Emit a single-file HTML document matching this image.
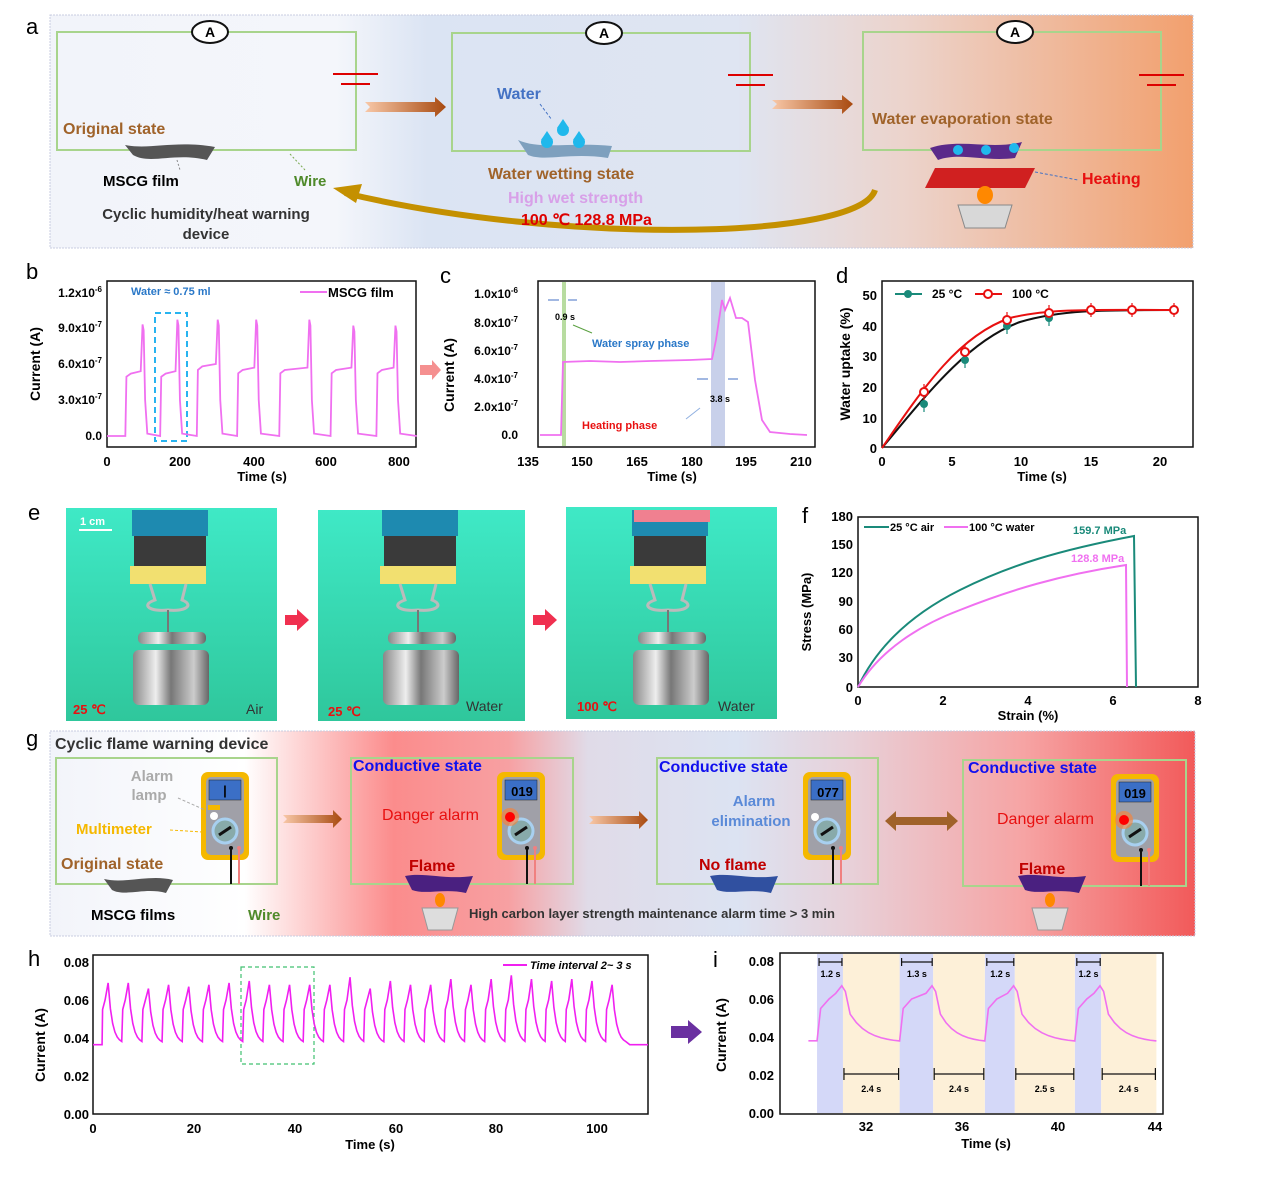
<!DOCTYPE html>
<html><head><meta charset="utf-8"><style>
html,body{margin:0;padding:0;background:#fff;}
svg{display:block;font-family:"Liberation Sans",Arial,sans-serif;}
.b{font-weight:bold}
</style></head><body>
<svg id="s" width="1269" height="1181" viewBox="0 0 1269 1181" xmlns="http://www.w3.org/2000/svg">
<defs>
<linearGradient id="ga" x1="0" x2="1" y1="0" y2="0">
<stop offset="0" stop-color="#f2f4fa"/><stop offset="0.25" stop-color="#f4f6fb"/><stop offset="0.33" stop-color="#dbe4f3"/><stop offset="0.6" stop-color="#dfe5f2"/><stop offset="0.75" stop-color="#ecd3cb"/><stop offset="1" stop-color="#f2a06e"/>
</linearGradient>
<linearGradient id="gg" x1="0" x2="1" y1="0" y2="0">
<stop offset="0" stop-color="#f2f4fa"/><stop offset="0.17" stop-color="#fff"/><stop offset="0.3" stop-color="#fb8c8c"/><stop offset="0.4" stop-color="#f7a0a2"/><stop offset="0.47" stop-color="#e0dbe8"/><stop offset="0.6" stop-color="#dce3f2"/><stop offset="0.7" stop-color="#e8d0d8"/><stop offset="0.85" stop-color="#f6a4a4"/><stop offset="1" stop-color="#f25a5a"/>
</linearGradient>
<linearGradient id="ge" x1="0" x2="0" y1="0" y2="1">
<stop offset="0" stop-color="#3fe9c6"/><stop offset="1" stop-color="#2fc79c"/>
</linearGradient>
<linearGradient id="ar" x1="0" x2="1"><stop offset="0" stop-color="#f8c8a8"/><stop offset="1" stop-color="#a84a10"/></linearGradient>
<linearGradient id="wt" x1="0" x2="1"><stop offset="0" stop-color="#888"/><stop offset="0.3" stop-color="#eee"/><stop offset="0.5" stop-color="#777"/><stop offset="0.8" stop-color="#ccc"/><stop offset="1" stop-color="#666"/></linearGradient>
<g id="mm">
<rect x="0" y="0" width="48" height="88" rx="7" fill="#f5b800"/>
<rect x="5" y="5" width="38" height="78" rx="5" fill="#a0a0a8"/>
<rect x="8" y="8" width="32" height="20" fill="#3b6fc6" stroke="#222" stroke-width="0.5"/>
<circle cx="24" cy="59" r="12" fill="#8aa" stroke="#a8d0f0" stroke-width="3"/>
<line x1="18" y1="63" x2="30" y2="55" stroke="#111" stroke-width="3"/>
<circle cx="30" cy="76" r="2" fill="#111"/><circle cx="38" cy="76" r="2" fill="#f08080"/>
</g>
</defs>

<!-- ========== a ========== -->
<text x="26" y="34" font-size="22">a</text>
<rect x="50" y="15" width="1143" height="233" fill="url(#ga)" stroke="#c8cce0" stroke-dasharray="2,1"/>
<g fill="none" stroke="#a8d48c" stroke-width="2">
<rect x="57" y="32" width="299" height="118"/>
<rect x="452" y="33" width="298" height="118"/>
<rect x="863" y="32" width="298" height="118"/>
</g>
<g stroke="#d00" stroke-width="2">
<line x1="333" y1="74" x2="378" y2="74"/><line x1="341" y1="84" x2="370" y2="84"/>
<line x1="728" y1="75" x2="773" y2="75"/><line x1="736" y1="85" x2="765" y2="85"/>
<line x1="1139" y1="75" x2="1184" y2="75"/><line x1="1147" y1="85" x2="1176" y2="85"/>
</g>
<g fill="#fff" stroke="#111" stroke-width="2">
<ellipse cx="210" cy="32" rx="18" ry="11"/><ellipse cx="604" cy="33" rx="18" ry="11"/><ellipse cx="1015" cy="32" rx="18" ry="11"/>
</g>
<g font-size="14" font-weight="bold" text-anchor="middle">
<text x="210" y="37">A</text><text x="604" y="38">A</text><text x="1015" y="37">A</text>
</g>
<polygon points="365,102 435,102 435,97 446,107 435,117 435,112 365,112 370,107" fill="url(#ar)"/>
<polygon points="772,100 842,100 842,95 853,104 842,114 842,109 772,109 777,104" fill="url(#ar)"/>
<path d="M875,190 C860,240 560,245 345,193" fill="none" stroke="#c49000" stroke-width="6"/>
<polygon points="333,188 362,184 356,203" fill="#c49000"/>
<text x="63" y="134" font-size="16" class="b" fill="#a0632a">Original state</text>
<path d="M125,145 C150,150 175,140 215,147 L207,160 C175,152 150,165 133,155Z" fill="#555"/>
<line x1="177" y1="160" x2="180" y2="170" stroke="#888" stroke-dasharray="2,2"/>
<line x1="290" y1="154" x2="305" y2="170" stroke="#7aaa50" stroke-dasharray="2,2"/>
<text x="103" y="186" font-size="15" class="b">MSCG film</text>
<text x="294" y="186" font-size="15" class="b" fill="#4f8a2a">Wire</text>
<text x="206" y="219" font-size="15" class="b" fill="#333" text-anchor="middle">Cyclic humidity/heat warning</text>
<text x="206" y="239" font-size="15" class="b" fill="#333" text-anchor="middle">device</text>
<text x="497" y="99" font-size="16" class="b" fill="#4472c4">Water</text>
<line x1="540" y1="104" x2="552" y2="120" stroke="#4472c4" stroke-dasharray="3,2"/>
<path d="M518,140 C540,150 570,142 612,146 L608,158 C570,152 545,162 528,155Z" fill="#7ea0be"/>
<g fill="#20b8ec"><circle cx="563" cy="130" r="6"/><circle cx="547" cy="142" r="6"/><circle cx="579" cy="142" r="6"/>
<polygon points="563,119 557,128 569,128"/><polygon points="547,131 541,140 553,140"/><polygon points="579,131 573,140 585,140"/></g>
<text x="488" y="179" font-size="16" class="b" fill="#a0632a">Water wetting  state</text>
<text x="508" y="203" font-size="16" class="b" fill="#d8a0e8">High wet strength</text>
<text x="521" y="225" font-size="16" class="b" fill="#d00">100 ℃    128.8 MPa</text>
<text x="872" y="124" font-size="16" class="b" fill="#a0632a">Water evaporation state</text>
<path d="M930,148 C960,138 990,150 1022,142 L1015,158 C985,162 960,152 938,160Z" fill="#5a2a8a"/>
<g fill="#20b8ec"><circle cx="958" cy="150" r="5"/><circle cx="986" cy="150" r="5"/><circle cx="1014" cy="148" r="5"/></g>
<polygon points="935,168 1035,168 1025,188 925,188" fill="#d02020"/>
<ellipse cx="985" cy="195" rx="8" ry="9" fill="#f80"/>
<path d="M958,205 L1012,205 L1005,228 L965,228Z" fill="#d8d8d8" stroke="#888"/>
<line x1="1035" y1="172" x2="1078" y2="180" stroke="#4472c4" stroke-dasharray="3,2"/>
<text x="1082" y="184" font-size="16" class="b" fill="#e81010">Heating</text>

<!-- ========== b ========== -->
<text x="26" y="279" font-size="22">b</text>
<rect x="107" y="281" width="309" height="166" fill="none" stroke="#111" stroke-width="1.5"/>
<g font-size="12" class="b" text-anchor="end">
<text x="102" y="440">0.0</text><text x="102" y="404">3.0x10<tspan dy="-5" font-size="8">-7</tspan></text>
<text x="102" y="368">6.0x10<tspan dy="-5" font-size="8">-7</tspan></text><text x="102" y="332">9.0x10<tspan dy="-5" font-size="8">-7</tspan></text>
<text x="102" y="297">1.2x10<tspan dy="-5" font-size="8">-6</tspan></text></g>
<g font-size="13" class="b" text-anchor="middle"><text x="107" y="466">0</text><text x="180" y="466">200</text><text x="254" y="466">400</text><text x="326" y="466">600</text><text x="399" y="466">800</text>
<text x="262" y="481">Time (s)</text></g>
<text transform="translate(40,364) rotate(-90)" font-size="14" class="b" text-anchor="middle">Current (A)</text>
<text x="131" y="295" font-size="11" class="b" fill="#2a78c8">Water ≈ 0.75 ml</text>
<line x1="300" y1="292" x2="327" y2="292" stroke="#f070f0" stroke-width="2"/>
<text x="328" y="297" font-size="13" class="b">MSCG film</text>
<rect x="155" y="313" width="32" height="128" fill="none" stroke="#28b4f0" stroke-width="2" stroke-dasharray="6,4"/>
<path id="pb" fill="none" stroke="#f070f0" stroke-width="1.8"/>
<polygon points="420,365 432,365 432,360 441,370 432,380 432,375 420,375" fill="#f59090"/>

<!-- ========== c ========== -->
<text x="440" y="283" font-size="22">c</text>
<rect x="562" y="282" width="4" height="164" fill="#b8dca0"/>
<rect x="711" y="282" width="14" height="164" fill="#c8d0ea"/>
<rect x="538" y="281" width="277" height="166" fill="none" stroke="#111" stroke-width="1.5"/>
<g font-size="12" class="b" text-anchor="end">
<text x="518" y="439">0.0</text><text x="518" y="411">2.0x10<tspan dy="-5" font-size="8">-7</tspan></text>
<text x="518" y="383">4.0x10<tspan dy="-5" font-size="8">-7</tspan></text><text x="518" y="355">6.0x10<tspan dy="-5" font-size="8">-7</tspan></text>
<text x="518" y="327">8.0x10<tspan dy="-5" font-size="8">-7</tspan></text><text x="518" y="298">1.0x10<tspan dy="-5" font-size="8">-6</tspan></text></g>
<g font-size="13" class="b" text-anchor="middle"><text x="528" y="466">135</text><text x="582" y="466">150</text><text x="637" y="466">165</text><text x="692" y="466">180</text><text x="746" y="466">195</text><text x="801" y="466">210</text>
<text x="672" y="481">Time (s)</text></g>
<text transform="translate(454,375) rotate(-90)" font-size="14" class="b" text-anchor="middle">Current (A)</text>
<path d="M540,435 L561,435 L563,362 L590,361 L620,362 L650,361 L690,360 L712,359 L716,340 L722,300 L725,310 L730,298 L736,318 L742,318 L748,322 L755,380 L762,420 L770,432 L790,434 L807,435" fill="none" stroke="#f070f0" stroke-width="1.8"/>
<g stroke="#4472c4" stroke-width="1"><line x1="548" y1="300" x2="559" y2="300"/><line x1="568" y1="300" x2="577" y2="300"/>
<line x1="697" y1="379" x2="708" y2="379"/><line x1="728" y1="379" x2="738" y2="379"/></g>
<text x="555" y="320" font-size="9" class="b">0.9 s</text>
<line x1="573" y1="325" x2="592" y2="333" stroke="#5aa040"/>
<text x="592" y="347" font-size="11" class="b" fill="#2a78c8">Water spray phase</text>
<text x="710" y="402" font-size="9" class="b">3.8 s</text>
<line x1="700" y1="408" x2="686" y2="419" stroke="#90b0e0"/>
<text x="582" y="429" font-size="11" class="b" fill="#e81010">Heating phase</text>

<!-- ========== d ========== -->
<text x="836" y="283" font-size="22">d</text>
<rect x="882" y="281" width="311" height="166" fill="none" stroke="#111" stroke-width="1.5"/>
<g font-size="13" class="b" text-anchor="end">
<text x="877" y="453">0</text><text x="877" y="423">10</text><text x="877" y="392">20</text><text x="877" y="361">30</text><text x="877" y="331">40</text><text x="877" y="300">50</text></g>
<g font-size="13" class="b" text-anchor="middle"><text x="882" y="466">0</text><text x="952" y="466">5</text><text x="1021" y="466">10</text><text x="1091" y="466">15</text><text x="1160" y="466">20</text>
<text x="1042" y="481">Time (s)</text></g>
<text transform="translate(850,364) rotate(-90)" font-size="14" class="b" text-anchor="middle">Water uptake (%)</text>
<path d="M882,448 C930,390 970,340 1020,322 C1060,310 1100,310 1175,310" fill="none" stroke="#111" stroke-width="2"/>
<path d="M882,448 C925,385 960,335 1010,318 C1050,308 1100,310 1175,310" fill="none" stroke="#e81010" stroke-width="2"/>
<g stroke="#1a8a7a" stroke-width="1.2"><line x1="924" y1="396" x2="924" y2="412"/><line x1="965" y1="352" x2="965" y2="368"/><line x1="1007" y1="318" x2="1007" y2="334"/><line x1="1049" y1="310" x2="1049" y2="326"/></g>
<g stroke="#e81010" stroke-width="1.2"><line x1="924" y1="384" x2="924" y2="400"/><line x1="965" y1="344" x2="965" y2="360"/><line x1="1007" y1="312" x2="1007" y2="328"/><line x1="1049" y1="305" x2="1049" y2="321"/><line x1="1091" y1="303" x2="1091" y2="317"/><line x1="1132" y1="303" x2="1132" y2="317"/><line x1="1174" y1="303" x2="1174" y2="317"/></g>
<g fill="#1a8a7a"><circle cx="924" cy="404" r="4"/><circle cx="965" cy="360" r="4"/><circle cx="1007" cy="326" r="4"/><circle cx="1049" cy="318" r="4"/><circle cx="1091" cy="311" r="4"/></g>
<g fill="#fff" stroke="#e81010" stroke-width="2"><circle cx="924" cy="392" r="4"/><circle cx="965" cy="352" r="4"/><circle cx="1007" cy="320" r="4"/><circle cx="1049" cy="313" r="4"/><circle cx="1091" cy="310" r="4"/><circle cx="1132" cy="310" r="4"/><circle cx="1174" cy="310" r="4"/></g>
<line x1="895" y1="294" x2="922" y2="294" stroke="#1a8a7a" stroke-width="2"/><circle cx="908" cy="294" r="4" fill="#1a8a7a"/>
<text x="932" y="298" font-size="12" class="b">25 °C</text>
<line x1="975" y1="294" x2="1002" y2="294" stroke="#e81010" stroke-width="2"/><circle cx="988" cy="294" r="4" fill="#fff" stroke="#e81010" stroke-width="2"/>
<text x="1012" y="298" font-size="12" class="b">100 °C</text>

<!-- ========== e ========== -->
<text x="28" y="520" font-size="22">e</text>
<rect x="66" y="508" width="211" height="213" fill="url(#ge)"/>
<rect x="318" y="510" width="207" height="211" fill="url(#ge)"/>
<rect x="566" y="507" width="211" height="212" fill="url(#ge)"/>
<g id="rig1">
<rect x="132" y="510" width="76" height="26" fill="#1e8ab0"/>
<rect x="134" y="536" width="72" height="30" fill="#3a3a3a"/>
<rect x="130" y="566" width="76" height="18" fill="#f2e070"/>
<path d="M150,584 L155,600 C140,605 150,612 168,610 C185,612 195,605 182,600 L186,584" fill="none" stroke="#bbb" stroke-width="3"/>
<line x1="168" y1="610" x2="168" y2="632" stroke="#777" stroke-width="2"/>
<rect x="138" y="632" width="68" height="12" rx="5" fill="url(#wt)"/>
<rect x="133" y="650" width="76" height="55" rx="6" fill="url(#wt)"/>
</g>
<use href="#rig1" x="250"/>
<use href="#rig1" x="500"/>
<rect x="634" y="510" width="76" height="12" fill="#f08090"/>
<text x="80" y="525" font-size="11" class="b" fill="#fff">1 cm</text>
<line x1="79" y1="530" x2="112" y2="530" stroke="#fff" stroke-width="2"/>
<text x="73" y="714" font-size="13" class="b" fill="#e81010">25 ℃</text><text x="246" y="714" font-size="14" fill="#333">Air</text>
<text x="328" y="716" font-size="13" class="b" fill="#e81010">25 ℃</text><text x="466" y="711" font-size="14" fill="#333">Water</text>
<text x="577" y="711" font-size="13" class="b" fill="#e81010">100 ℃</text><text x="718" y="711" font-size="14" fill="#333">Water</text>
<polygon points="285,615 297,615 297,609 309,620 297,631 297,625 285,625" fill="#f03050"/>
<polygon points="533,615 545,615 545,609 557,620 545,631 545,625 533,625" fill="#f03050"/>

<!-- ========== f ========== -->
<text x="802" y="523" font-size="22">f</text>
<rect x="858" y="517" width="340" height="170" fill="none" stroke="#111" stroke-width="1.5"/>
<g font-size="13" class="b" text-anchor="end">
<text x="853" y="692">0</text><text x="853" y="662">30</text><text x="853" y="634">60</text><text x="853" y="606">90</text><text x="853" y="577">120</text><text x="853" y="549">150</text><text x="853" y="521">180</text></g>
<g font-size="13" class="b" text-anchor="middle"><text x="858" y="705">0</text><text x="943" y="705">2</text><text x="1028" y="705">4</text><text x="1113" y="705">6</text><text x="1198" y="705">8</text>
<text x="1028" y="720">Strain (%)</text></g>
<text transform="translate(811,612) rotate(-90)" font-size="13" class="b" text-anchor="middle">Stress (MPa)</text>
<path d="M858,687 C880,640 920,610 960,590 C1010,565 1060,550 1134,536 L1136,687" fill="none" stroke="#1a8a7a" stroke-width="2"/>
<path d="M858,687 C880,650 920,625 960,610 C1010,590 1060,575 1126,565 L1127,687" fill="none" stroke="#f070f0" stroke-width="2"/>
<line x1="864" y1="527" x2="889" y2="527" stroke="#1a8a7a" stroke-width="2"/><text x="890" y="531" font-size="11" class="b">25 °C air</text>
<line x1="944" y1="527" x2="968" y2="527" stroke="#f070f0" stroke-width="2"/><text x="969" y="531" font-size="11" class="b">100 °C water</text>
<text x="1073" y="534" font-size="11" class="b" fill="#1a8a7a">159.7 MPa</text>
<text x="1071" y="562" font-size="11" class="b" fill="#f070f0">128.8 MPa</text>

<!-- ========== g ========== -->
<text x="26" y="746" font-size="22">g</text>
<rect x="50" y="731" width="1145" height="205" fill="url(#gg)" stroke="#c8cce0" stroke-dasharray="2,1"/>
<text x="55" y="749" font-size="16" class="b" fill="#333">Cyclic flame warning device</text>
<g fill="none" stroke="#a8d48c" stroke-width="2">
<rect x="56" y="758" width="221" height="126"/><rect x="351" y="758" width="222" height="126"/>
<rect x="657" y="758" width="221" height="126"/><rect x="963" y="760" width="223" height="126"/>
</g>
<use href="#mm" x="201" y="772"/><use href="#mm" x="497" y="772"/><use href="#mm" x="803" y="772"/><use href="#mm" x="1111" y="774"/>
<g font-size="13" class="b" text-anchor="middle"><text x="225" y="795">|</text><text x="522" y="796">019</text><text x="828" y="797">077</text><text x="1135" y="798">019</text></g>
<g stroke="#111" stroke-width="2"><line x1="231" y1="848" x2="231" y2="884"/><line x1="527" y1="848" x2="527" y2="884"/><line x1="833" y1="848" x2="833" y2="884"/><line x1="1141" y1="850" x2="1141" y2="886"/></g>
<g stroke="#f08080" stroke-width="2"><line x1="239" y1="848" x2="239" y2="884"/><line x1="535" y1="848" x2="535" y2="884"/><line x1="841" y1="848" x2="841" y2="884"/><line x1="1149" y1="850" x2="1149" y2="886"/></g>
<rect x="208" y="805" width="12" height="5" fill="#f5b800"/><circle cx="214" cy="816" r="4" fill="#fff"/>
<circle cx="510" cy="817" r="9" fill="#ff8030" opacity="0.6"/><circle cx="510" cy="817" r="5" fill="#f00"/>
<circle cx="1124" cy="820" r="9" fill="#ff8030" opacity="0.6"/><circle cx="1124" cy="820" r="5" fill="#f00"/>
<circle cx="815" cy="817" r="4" fill="#fff"/>
<text x="152" y="781" font-size="15" class="b" fill="#aaa" text-anchor="middle">Alarm</text>
<text x="149" y="800" font-size="15" class="b" fill="#aaa" text-anchor="middle">lamp</text>
<line x1="178" y1="798" x2="205" y2="810" stroke="#aaa" stroke-dasharray="3,2"/>
<text x="76" y="834" font-size="15" class="b" fill="#f5b800">Multimeter</text>
<line x1="170" y1="830" x2="202" y2="832" stroke="#f5b800" stroke-dasharray="3,2"/>
<text x="61" y="869" font-size="16" class="b" fill="#a0632a">Original state</text>
<path d="M104,879 C125,884 150,874 173,880 L166,893 C145,887 125,897 112,890Z" fill="#555"/>
<text x="91" y="920" font-size="15" class="b">MSCG films</text>
<text x="248" y="920" font-size="15" class="b" fill="#4f8a2a">Wire</text>
<text x="353" y="771" font-size="16" class="b" fill="#1010ee">Conductive state</text>
<text x="659" y="772" font-size="16" class="b" fill="#1010ee">Conductive state</text>
<text x="968" y="773" font-size="16" class="b" fill="#1010ee">Conductive state</text>
<text x="382" y="820" font-size="16" fill="#e81010">Danger alarm</text>
<text x="997" y="824" font-size="16" fill="#e81010">Danger alarm</text>
<text x="754" y="806" font-size="15" class="b" fill="#5a8ad8" text-anchor="middle">Alarm</text>
<text x="751" y="826" font-size="15" class="b" fill="#5a8ad8" text-anchor="middle">elimination</text>
<text x="409" y="871" font-size="16" class="b" fill="#c00000">Flame</text>
<text x="699" y="870" font-size="16" class="b" fill="#c00000">No flame</text>
<text x="1019" y="874" font-size="16" class="b" fill="#c00000">Flame</text>
<path d="M405,876 C425,872 445,880 473,876 L466,893 C445,888 425,895 412,890Z" fill="#4a2080"/>
<path d="M710,876 C730,872 750,880 778,876 L771,893 C750,888 730,895 717,890Z" fill="#3050a0"/>
<path d="M1018,876 C1038,872 1058,880 1086,876 L1079,893 C1058,888 1038,895 1025,890Z" fill="#4a2080"/>
<ellipse cx="440" cy="900" rx="5" ry="7" fill="#f80"/><ellipse cx="1050" cy="900" rx="5" ry="7" fill="#f80"/>
<path d="M422,908 L458,908 L452,930 L428,930Z" fill="#ddd" stroke="#999"/>
<path d="M1032,908 L1068,908 L1062,930 L1038,930Z" fill="#ddd" stroke="#999"/>
<text x="469" y="918" font-size="13" class="b" fill="#333">High carbon layer strength maintenance alarm time &gt; 3 min</text>
<polygon points="283,815 333,815 333,810 342,819 333,828 333,823 283,823 287,819" fill="url(#ar)"/>
<polygon points="589,816 639,816 639,811 648,820 639,829 639,824 589,824 593,820" fill="url(#ar)"/>
<polygon points="885,821 896,811 896,817 947,817 947,811 958,821 947,831 947,825 896,825 896,831" fill="#a0622a"/>

<!-- ========== h ========== -->
<text x="28" y="966" font-size="22">h</text>
<rect x="93" y="955" width="555" height="159" fill="none" stroke="#111" stroke-width="1.5"/>
<g font-size="13" class="b" text-anchor="end">
<text x="89" y="1119">0.00</text><text x="89" y="1081">0.02</text><text x="89" y="1043">0.04</text><text x="89" y="1005">0.06</text><text x="89" y="967">0.08</text></g>
<g font-size="13" class="b" text-anchor="middle"><text x="93" y="1133">0</text><text x="194" y="1133">20</text><text x="295" y="1133">40</text><text x="396" y="1133">60</text><text x="496" y="1133">80</text><text x="597" y="1133">100</text>
<text x="370" y="1149">Time (s)</text></g>
<text transform="translate(45,1045) rotate(-90)" font-size="14" class="b" text-anchor="middle">Current (A)</text>
<rect x="241" y="967" width="73" height="97" fill="none" stroke="#40c070" stroke-width="1.2" stroke-dasharray="4,3"/>
<path id="ph2" fill="none" stroke="#f020f0" stroke-width="1.6"/>
<line x1="503" y1="965" x2="527" y2="965" stroke="#f020f0" stroke-width="2"/>
<text x="530" y="969" font-size="11" class="b" font-style="italic">Time interval 2~ 3 s</text>
<polygon points="671,1026 688,1026 688,1020 702,1032 688,1044 688,1038 671,1038" fill="#6a30a0"/>

<!-- ========== i ========== -->
<text x="713" y="967" font-size="22">i</text>
<g id="ibands"></g>
<rect x="780" y="953" width="383" height="161" fill="none" stroke="#111" stroke-width="1.5"/>
<g font-size="13" class="b" text-anchor="end">
<text x="774" y="1118">0.00</text><text x="774" y="1080">0.02</text><text x="774" y="1042">0.04</text><text x="774" y="1004">0.06</text><text x="774" y="966">0.08</text></g>
<g font-size="13" class="b" text-anchor="middle"><text x="866" y="1131">32</text><text x="962" y="1131">36</text><text x="1058" y="1131">40</text><text x="1155" y="1131">44</text>
<text x="986" y="1148">Time (s)</text></g>
<text transform="translate(726,1035) rotate(-90)" font-size="14" class="b" text-anchor="middle">Current (A)</text>
<path id="pi" fill="none" stroke="#f070f0" stroke-width="1.6"/>
<g id="ilab" font-size="9" class="b" text-anchor="middle"></g>
</svg>
<script>
(function(){
var NS="http://www.w3.org/2000/svg";
// b
var Xb=function(t){return 107+t*0.3665}, Yb=function(v){return 436-v*120};
var starts=[50,145,245,355,470,610,735],ends=[100,195,305,410,555,675,790],peaks=[0.93,0.97,0.97,0.97,0.97,0.92,0.92],plat=[0.52,0.52,0.58,0.55,0.55,0.55,0.55];
var d="M"+Xb(0)+","+Yb(0);
for(var i=0;i<7;i++){var s=starts[i],e=ends[i];
d+=" L"+Xb(s)+","+Yb(0)+" L"+Xb(s+3)+","+Yb(plat[i]*0.95)+" L"+Xb(s+15)+","+Yb(plat[i])+" L"+Xb(e-8)+","+Yb(plat[i]+0.02)+" L"+Xb(e-3)+","+Yb(peaks[i])+" L"+Xb(e)+","+Yb(peaks[i]-0.05)+" L"+Xb(e+4)+","+Yb(0.3)+" L"+Xb(e+10)+","+Yb(0.02);}
d+=" L"+Xb(845)+","+Yb(0);
document.getElementById("pb").setAttribute("d",d);
// h
var Xh=function(t){return 93+t*5.04},Yh=function(v){return 1114-v*1900};
var p="M93,"+Yh(0.0365)+" L"+Xh(1.8)+","+Yh(0.0365);
var t=1.8,k=0,amps=[0.069,0.069,0.066,0.068,0.067,0.068,0.069,0.070,0.068,0.068,0.068,0.068,0.072,0.066,0.070,0.068,0.068,0.071,0.068,0.071,0.073,0.071,0.070,0.071,0.070,0.068,0.067];
while(t<105){var a=amps[k%amps.length];
p+=" L"+Xh(t+0.1)+","+Yh(0.055)+" L"+Xh(t+0.6)+","+Yh(0.06)+" L"+Xh(t+1.2)+","+Yh(a);
for(var j=1;j<=6;j++){var tt=t+1.2+j*0.45;p+=" L"+Xh(tt)+","+Yh(0.037+(a-0.037)*Math.exp(-j*0.55));}
t+=4.0;k++;}
p+=" L"+Xh(106.5)+","+Yh(0.0365)+" L648,"+Yh(0.0365);
document.getElementById("ph2").setAttribute("d",p);
// i
var Xi=function(s){return 866+(s-32)*24},Yi=function(v){return 1113-v*1900};
var bands=document.getElementById("ibands");
var blue=[[29.96,31.04],[33.4,34.8],[36.95,38.2],[40.7,41.8]],yel=[[31.04,33.4],[34.8,36.95],[38.2,40.7],[41.8,44.1]];
function rect(x1,x2,c){var r=document.createElementNS(NS,"rect");r.setAttribute("x",Xi(x1));r.setAttribute("y",954);r.setAttribute("width",Xi(x2)-Xi(x1));r.setAttribute("height",159);r.setAttribute("fill",c);bands.appendChild(r);}
blue.forEach(function(b){rect(b[0],b[1],"#d4d8f8")});yel.forEach(function(b){rect(b[0],b[1],"#fdf0d8")});
var q="M"+Xi(29.6)+","+Yi(0.038)+" L"+Xi(29.96)+","+Yi(0.038);
blue.forEach(function(b,n){var s=b[0],e=b[1];
q+=" L"+Xi(s+0.15)+","+Yi(0.055)+" L"+Xi(s+0.5)+","+Yi(0.060)+" L"+Xi(e-0.3)+","+Yi(0.063)+" L"+Xi(e-0.05)+","+Yi(0.067)+" L"+Xi(e+0.1)+","+Yi(0.064)+" L"+Xi(e+0.3)+","+Yi(0.052);
var end=(n<3?blue[n+1][0]:44.1);
for(var j=1;j<=8;j++){var tt=e+0.3+(end-e-0.3)*j/8;q+=" L"+Xi(tt)+","+Yi(0.037+0.015*Math.exp(-j*0.35));}});
document.getElementById("pi").setAttribute("d",q);
var lab=document.getElementById("ilab"),s="";
var bl=["1.2 s","1.3 s","1.2 s","1.2 s"],yl=["2.4 s","2.4 s","2.5 s","2.4 s"];
blue.forEach(function(b,n){var x1=Xi(b[0])+2,x2=Xi(b[1])-1;s+='<path d="M'+x1+',958 v8 M'+x1+',962 H'+x2+' M'+x2+',958 v8" stroke="#111" stroke-width="1.2" fill="none"/><text x="'+(x1+x2)/2+'" y="977">'+bl[n]+'</text>';});
yel.forEach(function(b,n){var x1=Xi(b[0])+1,x2=Xi(b[1])-1;s+='<path d="M'+x1+',1068 v12 M'+x1+',1074 H'+x2+' M'+x2+',1068 v12" stroke="#111" stroke-width="1.2" fill="none"/><text x="'+(x1+x2)/2+'" y="1092">'+yl[n]+'</text>';});
lab.innerHTML=s;
})();
</script>
</body></html>
